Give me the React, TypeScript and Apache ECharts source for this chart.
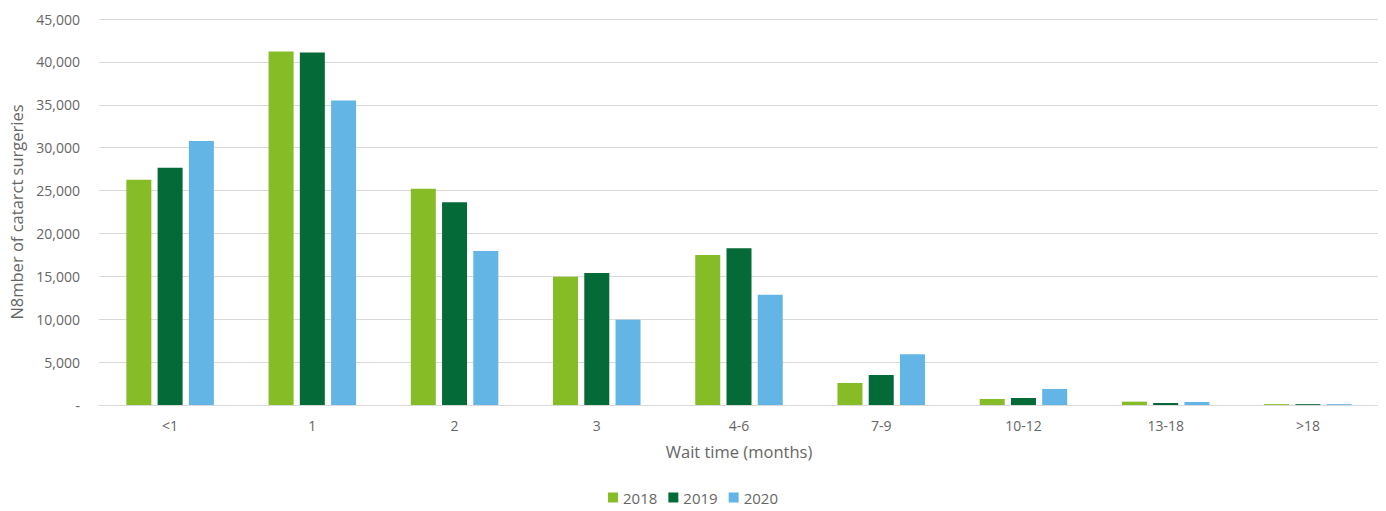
import React, { useEffect, useRef } from "react";
import * as echarts from "echarts";

const categories = ["<1", "1", "2", "3", "4-6", "7-9", "10-12", "13-18", ">18"];
const seriesNames = ["2018", "2019", "2020"];
const values2018 = [26270, 41200, 25200, 14960, 17490, 2570, 700, 390, 100];
const values2019 = [27670, 41080, 23630, 15400, 18270, 3500, 820, 230, 100];
const values2020 = [30780, 35500, 17950, 9950, 12860, 5910, 1870, 350, 100];
const colors = ["#86BC25", "#046A38", "#62B5E5"];

export default function App() {
  const ref = useRef<HTMLDivElement>(null);
  useEffect(() => {
    if (!ref.current) return;
    const chart = echarts.init(ref.current, undefined, { renderer: "svg" });
    const font = "'Open Sans', 'Noto Sans', sans-serif";
    const data = [values2018, values2019, values2020];
    chart.setOption({
      animation: false,
      textStyle: { fontFamily: font },
      grid: { left: 99, right: 7, top: 11, bottom: 106, containLabel: false, outerBoundsMode: "none" },
      legend: {
        top: 477,
        left: "center",
        itemWidth: 10,
        itemHeight: 10,
        itemGap: 11,
        icon: "rect",
        textStyle: { color: "#666666", fontSize: 15, fontFamily: font },
        data: seriesNames,
      },
      xAxis: {
        type: "category",
        data: categories,
        name: "Wait time (months)",
        nameLocation: "middle",
        nameGap: 38,
        nameTextStyle: { color: "#666666", fontSize: 16.5, fontFamily: font },
        axisLine: { lineStyle: { color: "#d9d9d9" } },
        axisTick: { show: false },
        axisLabel: { color: "#666666", fontSize: 14, margin: 13, fontFamily: font },
      },
      yAxis: {
        type: "value",
        min: 0,
        max: 45000,
        interval: 5000,
        name: "N8mber of catarct surgeries",
        nameLocation: "middle",
        nameGap: 72,
        nameTextStyle: { color: "#666666", fontSize: 16.5, fontFamily: font },
        axisLine: { show: false },
        axisTick: { show: false },
        splitLine: { lineStyle: { color: "#d9d9d9" } },
        axisLabel: {
          color: "#666666",
          fontSize: 14,
          margin: 19,
          fontFamily: font,
          formatter: (v: number) => (v === 0 ? "-" : v.toLocaleString("en-US")),
        },
      },
      series: seriesNames.map((n, i) => ({
        name: n,
        type: "bar",
        data: data[i],
        barWidth: 25,
        barGap: "25%",
        itemStyle: { color: colors[i] },
      })),
    });
    return () => chart.dispose();
  }, []);
  return <div ref={ref} style={{ position: "relative", left: -8, width: 1386, height: 503 }} />;
}
